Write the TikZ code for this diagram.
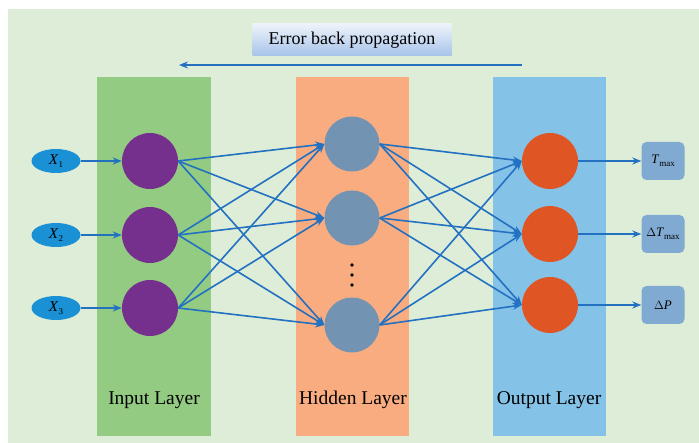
\documentclass[tikz,border=0pt]{standalone}
\usepackage{fontspec}
\setmainfont{Liberation Serif}
\usetikzlibrary{arrows.meta,shapes.geometric}

\definecolor{bgcol}{HTML}{DEEDD8}
\definecolor{inband}{HTML}{93CB83}
\definecolor{hidband}{HTML}{F8AC80}
\definecolor{outband}{HTML}{85C2E8}
\definecolor{inneuron}{HTML}{75308D}
\definecolor{hidneuron}{HTML}{7393B2}
\definecolor{outneuron}{HTML}{E05524}
\definecolor{wire}{HTML}{2371C1}
\definecolor{invar}{HTML}{1A90D5}
\definecolor{outvar}{HTML}{80AAD2}
\definecolor{errtop}{HTML}{EEF3FA}
\definecolor{errbot}{HTML}{A6C3EA}

\newcommand{\subtxt}[1]{\raisebox{-0.2em}{\fontsize{9}{9}\selectfont #1}}

\tikzset{
  neuron/.style={circle, draw=none, minimum size=56pt, inner sep=0pt},
  inN/.style={neuron, fill=inneuron},
  hidN/.style={neuron, fill=hidneuron, minimum size=55pt},
  outN/.style={neuron, fill=outneuron},
  invarnode/.style={ellipse, fill=invar, draw=none, minimum width=49pt, minimum height=24pt, inner sep=0pt, font=\fontsize{15}{15}\selectfont},
  outvarnode/.style={rectangle, rounded corners=5pt, fill=outvar, draw=none, minimum width=43pt, minimum height=38pt, inner sep=0pt, text width=43pt, align=center, font=\fontsize{13}{13}\selectfont},
  wireline/.style={draw=wire, line width=1.6pt, -{Stealth[length=9pt,width=7pt]}},
  bandlabel/.style={font=\fontsize{19.5}{19.5}\selectfont, text=black},
}

\begin{document}
\begin{tikzpicture}[x=1pt,y=-1pt]
  \useasboundingbox (0,0) rectangle (699,443);
  % background panel
  \fill[bgcol] (8,9.5) rectangle (699,443);
  % layer bands
  \fill[inband] (97,77.5) rectangle (211,436);
  \fill[hidband] (296,77.5) rectangle (409,436);
  \fill[outband] (493,77.5) rectangle (606,436);

  % back-propagation banner and arrow
  \node[shade, top color=errtop, bottom color=errbot, minimum width=199pt, minimum height=32pt, inner sep=0pt,
        font=\fontsize{18}{18}\selectfont] (err) at (352,40) {Error back propagation};
  \coordinate (bpstart) at (522,65);
  \coordinate (bpend) at (179,65);
  \draw[wireline] (bpstart) -- (bpend);

  % input variables
  \node[invarnode] (x1) at (56,161) {\textit{X}\subtxt{1}};
  \node[invarnode] (x2) at (56,235) {\textit{X}\subtxt{2}};
  \node[invarnode] (x3) at (56,308) {\textit{X}\subtxt{3}};

  % input layer
  \node[inN] (i1) at (150,161) {};
  \node[inN] (i2) at (150,235) {};
  \node[inN] (i3) at (150,308) {};

  % hidden layer
  \node[hidN] (h1) at (352,144) {};
  \node[hidN] (h2) at (352,218) {};
  \node[hidN] (h3) at (352,325) {};
  \foreach \yy in {265,275,285} \fill[black] (352,\yy) circle (1.8pt);

  % output layer
  \node[outN] (o1) at (550,161) {};
  \node[outN] (o2) at (550,234) {};
  \node[outN] (o3) at (550,305) {};

  % output variables
  \node[outvarnode] (y1) at (663,161) {\textit{T}\subtxt{max}};
  \node[outvarnode] (y2) at (663,234) {$\Delta$\textit{T}\subtxt{max}};
  \node[outvarnode] (y3) at (663,305) {$\Delta$\textit{P}};

  % connections
  \foreach \k in {1,2,3} {
    \draw[wireline] (x\k.east) -- (i\k.west);
    \draw[wireline] (o\k.east) -- (y\k.west);
  }
  \foreach \a in {1,2,3} {
    \foreach \b in {1,2,3} {
      \draw[wireline] (i\a.east) -- (h\b.west);
      \draw[wireline] (h\a.east) -- (o\b.west);
    }
  }

  % layer captions
  \node[bandlabel] (lin) at (154,400) {Input Layer};
  \node[bandlabel] (lhid) at (353,400) {Hidden Layer};
  \node[bandlabel] (lout) at (549,400) {Output Layer};
\end{tikzpicture}
\end{document}
